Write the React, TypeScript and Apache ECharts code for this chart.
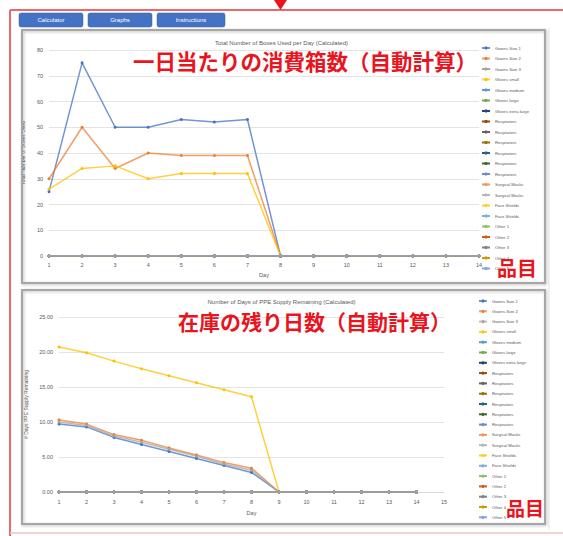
import React, { useEffect, useRef } from "react";
import * as echarts from "echarts";

const itemNames = [
  "Gowns Size 1", "Gowns Size 2", "Gowns Size 3", "Gloves small", "Gloves medium",
  "Gloves large", "Gloves extra large", "Respirators", "Respirators", "Respirators",
  "Respirators", "Respirators", "Respirators", "Surgical Masks", "Surgical Masks",
  "Face Shields", "Face Shields", "Other 1", "Other 2", "Other 3", "Other 4", "Other 5",
];
const itemColors = [
  "#4472C4", "#ED7D31", "#A5A5A5", "#FFC000", "#5B9BD5", "#70AD47", "#264478",
  "#9E480E", "#636363", "#997300", "#255E91", "#43682B", "#698ED0", "#F1975A",
  "#B7B7B7", "#FFCD33", "#7CAFDD", "#8CC168", "#D26012", "#848484", "#CC9A00", "#8AA4DA",
];

const daysTop = ["1", "2", "3", "4", "5", "6", "7", "8", "9", "10", "11", "12", "13", "14"];
const daysBottom = ["1", "2", "3", "4", "5", "6", "7", "8", "9", "10", "11", "12", "13", "14", "15"];

const zeros14 = [0, 0, 0, 0, 0, 0, 0, 0, 0, 0, 0, 0, 0, 0];

// Total number of boxes used per day
const boxesGownsSize1 = [25, 75, 50, 50, 53, 52, 53, 0, 0, 0, 0, 0, 0, 0];
const boxesGownsSize2 = [30, 50, 34, 40, 39, 39, 39, 0, 0, 0, 0, 0, 0, 0];
const boxesGlovesSmall = [26, 34, 35, 30, 32, 32, 32, 0, 0, 0, 0, 0, 0, 0];

// Days of PPE supply remaining
const daysGownsSize1 = [9.7, 9.3, 7.8, 6.8, 5.8, 4.8, 3.8, 2.8, 0, 0, 0, 0, 0, 0];
const daysGownsSize2 = [10.3, 9.7, 8.2, 7.4, 6.3, 5.3, 4.2, 3.4, 0, 0, 0, 0, 0, 0];
const daysGownsSize3 = [10.0, 9.5, 8.0, 7.1, 6.1, 5.1, 4.0, 3.1, 0, 0, 0, 0, 0, 0];
const daysGlovesSmall = [20.7, 19.9, 18.7, 17.6, 16.6, 15.6, 14.6, 13.6, 0, 0, 0, 0, 0, 0];

const topTitle = "Total Number of Boxes Used per Day (Calculated)";
const bottomTitle = "Number of Days of PPE Supply Remaining (Calculated)";
const topNote = "一日当たりの消費箱数（自動計算）";
const bottomNote = "在庫の残り日数（自動計算）";
const itemNote = "品目";
const buttons = ["Calculator", "Graphs", "Instructions"];

const topValues: Record<number, number[]> = { 0: boxesGownsSize1, 1: boxesGownsSize2, 3: boxesGlovesSmall };
const bottomValues: Record<number, number[]> = { 0: daysGownsSize1, 1: daysGownsSize2, 2: daysGownsSize3, 3: daysGlovesSmall };

const GRAY = "#595959";

export default function App() {
  const ref = useRef<HTMLDivElement>(null);
  useEffect(() => {
    if (!ref.current) return;
    const chart = echarts.init(ref.current, undefined, { renderer: "svg" });

    const topNames = itemNames.map((n, i) => `${n}#t${i}`);
    const bottomNames = itemNames.map((n, i) => `${n}#b${i}`);

    const mkSeries = (names: string[], values: Record<number, number[]>, idx: number) =>
      names.map((name, i) => ({
        type: "line",
        name,
        xAxisIndex: idx,
        yAxisIndex: idx,
        data: values[i] ?? zeros14,
        symbol: "circle",
        symbolSize: 3,
        lineStyle: { width: 1.5, color: itemColors[i], opacity: values[i] ? 0.75 : 1 },
        itemStyle: { color: itemColors[i] },
        emphasis: { disabled: true },
      }));

    const legendBase = {
      orient: "vertical",
      itemWidth: 8,
      itemHeight: 4,
      textStyle: { fontSize: 4.2, lineHeight: 6, color: GRAY, fontFamily: "Liberation Sans" },
      formatter: (name: string) => name.split("#")[0],
      selectedMode: false,
    };

    const axisLabelStyle = { fontSize: 5.5, color: GRAY, fontFamily: "Liberation Sans" };

    const btnGraphics: any[] = [];
    const btnX = [19, 88, 157];
    const btnW = [64, 64, 68];
    buttons.forEach((b, i) => {
      btnGraphics.push({
        type: "rect",
        shape: { x: btnX[i], y: 13, width: btnW[i], height: 14, r: 2 },
        style: { fill: "#4472C4", stroke: "#3a62aa", lineWidth: 0.5 },
        z: 10,
      });
      btnGraphics.push({
        type: "text",
        x: btnX[i] + btnW[i] / 2,
        y: 20,
        style: { text: b, fill: "#ffffff", fontSize: 6, align: "center", verticalAlign: "middle", fontFamily: "Liberation Sans" },
        z: 11,
      });
    });

    const option: any = {
      animation: false,
      backgroundColor: "#ffffff",
      title: [
        { text: topTitle, left: "center", top: 35, textStyle: { fontSize: 6, fontWeight: "normal", color: GRAY, fontFamily: "Liberation Sans" } },
        { text: bottomTitle, left: "center", top: 294, textStyle: { fontSize: 6, fontWeight: "normal", color: GRAY, fontFamily: "Liberation Sans" } },
      ],
      legend: [
        { ...legendBase, left: 476, top: 40, itemGap: 4.5, data: topNames },
        { ...legendBase, left: 473, top: 293, itemGap: 4.3, data: bottomNames },
      ],
      grid: [
        { left: 49, right: 84, top: 50, bottom: 280 },
        { left: 59, right: 119, top: 317, bottom: 44 },
      ],
      xAxis: [
        {
          type: "category", gridIndex: 0, data: daysTop, boundaryGap: false,
          name: "Day", nameLocation: "middle", nameGap: 16,
          nameTextStyle: { fontSize: 5.5, color: GRAY },
          axisLine: { lineStyle: { color: "#d9d9d9" } }, axisTick: { show: false },
          axisLabel: { ...axisLabelStyle, margin: 6 },
        },
        {
          type: "category", gridIndex: 1, data: daysBottom, boundaryGap: false,
          name: "Day", nameLocation: "middle", nameGap: 18,
          nameTextStyle: { fontSize: 5.5, color: GRAY },
          axisLine: { lineStyle: { color: "#d9d9d9" } }, axisTick: { show: false },
          axisLabel: { ...axisLabelStyle, margin: 7 },
        },
      ],
      yAxis: [
        {
          type: "value", gridIndex: 0, min: 0, max: 80, interval: 10,
          name: "Total Number of Boxes Used", nameLocation: "middle", nameGap: 13,
          nameTextStyle: { fontSize: 5, color: GRAY },
          axisLabel: { ...axisLabelStyle, margin: 6 },
          splitLine: { lineStyle: { color: "#e4e4e4" } },
        },
        {
          type: "value", gridIndex: 1, min: 0, max: 25, interval: 5,
          name: "# Days PPE Supply Remaining", nameLocation: "middle", nameGap: 19,
          nameTextStyle: { fontSize: 5, color: GRAY },
          axisLabel: { ...axisLabelStyle, margin: 6, formatter: (v: number) => v.toFixed(2) },
          splitLine: { lineStyle: { color: "#e4e4e4" } },
        },
      ],
      series: [...mkSeries(topNames, topValues, 0), ...mkSeries(bottomNames, bottomValues, 1)],
      graphic: [
        // red frame
        { type: "line", shape: { x1: 10, y1: 10, x2: 563, y2: 10 }, style: { stroke: "#e86a6a", lineWidth: 2 }, z: 5 },
        { type: "line", shape: { x1: 10, y1: 10, x2: 10, y2: 536 }, style: { stroke: "#e86a6a", lineWidth: 2 }, z: 5 },
        { type: "line", shape: { x1: 10, y1: 533, x2: 563, y2: 533 }, style: { stroke: "#f3c4c4", lineWidth: 1.5 }, z: 5 },
        { type: "polygon", shape: { points: [[274, 0], [287, 0], [280.5, 10]] }, style: { fill: "#e8141e" }, z: 6 },
        // light divider on right
        { type: "line", shape: { x1: 549, y1: 28, x2: 549, y2: 530 }, style: { stroke: "#e8e8e8", lineWidth: 1 }, z: 1 },
        // chart boxes
        { type: "rect", shape: { x: 22, y: 30, width: 523, height: 253 }, style: { fill: "none", stroke: "#a6a6a6", lineWidth: 2, shadowBlur: 3, shadowColor: "rgba(0,0,0,0.25)", shadowOffsetX: 1, shadowOffsetY: 1 }, z: 1 },
        { type: "rect", shape: { x: 22, y: 290, width: 523, height: 234 }, style: { fill: "none", stroke: "#a6a6a6", lineWidth: 2, shadowBlur: 3, shadowColor: "rgba(0,0,0,0.25)", shadowOffsetX: 1, shadowOffsetY: 1 }, z: 1 },
        ...btnGraphics,
        // red annotations
        { type: "text", x: 133, y: 60, style: { text: topNote, fill: "#e8141e", fontSize: 21.5, fontWeight: "bold", verticalAlign: "middle", fontFamily: "Noto Sans CJK JP" }, z: 20 },
        { type: "text", x: 178, y: 321, style: { text: bottomNote, fill: "#e8141e", fontSize: 21, fontWeight: "bold", verticalAlign: "middle", fontFamily: "Noto Sans CJK JP" }, z: 20 },
        { type: "text", x: 497, y: 267, style: { text: itemNote, fill: "#e8141e", fontSize: 20, fontWeight: "bold", verticalAlign: "middle", fontFamily: "Noto Sans CJK JP" }, z: 20 },
        { type: "text", x: 506, y: 507, style: { text: itemNote, fill: "#e8141e", fontSize: 19, fontWeight: "bold", verticalAlign: "middle", fontFamily: "Noto Sans CJK JP" }, z: 20 },
      ],
    };
    chart.setOption(option);
    return () => chart.dispose();
  }, []);

  return (
    <div
      ref={ref}
      style={{ position: "fixed", left: 0, top: 0, width: 563, height: 536 }}
    />
  );
}
